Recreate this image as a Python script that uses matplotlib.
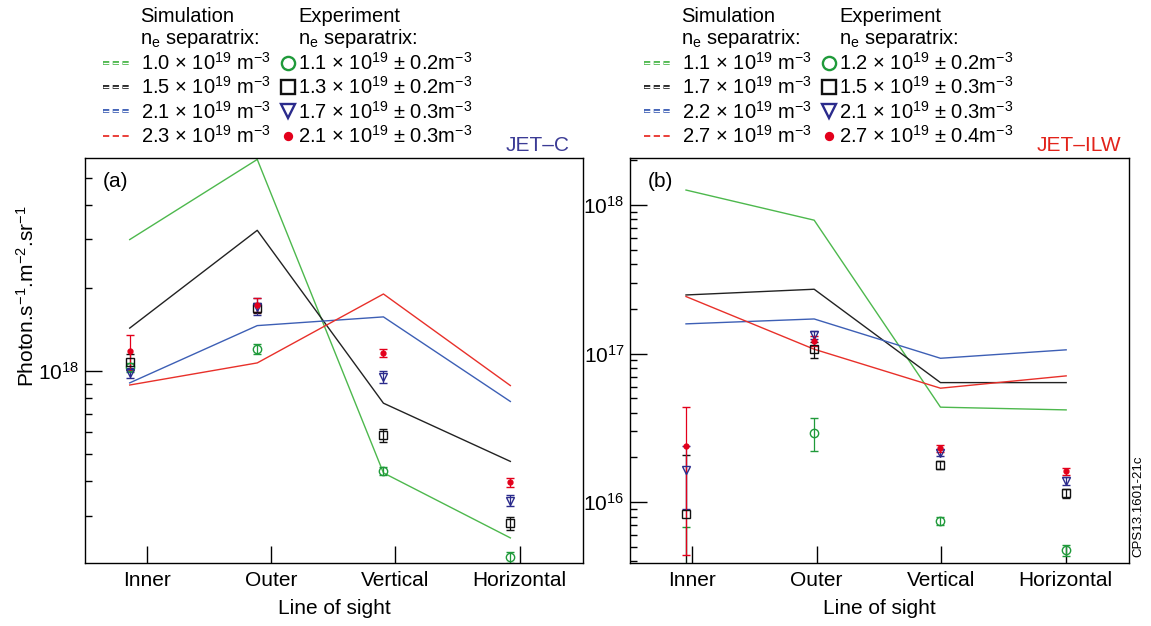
import numpy as np
import matplotlib
matplotlib.use('Agg')
import matplotlib.pyplot as plt
from matplotlib.lines import Line2D
from matplotlib.legend_handler import HandlerTuple
from matplotlib.ticker import FixedLocator, FuncFormatter, NullLocator

plt.rcParams['font.family'] = ['Liberation Sans', 'DejaVu Sans']
plt.rcParams['mathtext.default'] = 'regular'
plt.rcParams['lines.scale_dashes'] = False

# categories (line of sight)
categories = ['Inner', 'Outer', 'Vertical', 'Horizontal']

# JET-C simulation (ne separatrix 1.0, 1.5, 2.1, 2.3 e19)
sim_c_10 = [2.99e18, 5.83e18, 4.28e17, 2.49e17]
sim_c_15 = [1.43e18, 3.23e18, 7.65e17, 4.71e17]
sim_c_21 = [9.06e17, 1.46e18, 1.57e18, 7.76e17]
sim_c_23 = [8.90e17, 1.07e18, 1.90e18, 8.86e17]

# JET-C experiment (ne separatrix 1.1, 1.3, 1.7, 2.1 e19)
exp_c_11 = [1.03e18, 1.20e18, 4.35e17, 2.12e17]
exp_c_11_err = [0.04e18, 0.05e18, 0.15e17, 0.10e17]
exp_c_13 = [1.08e18, 1.69e18, 5.85e17, 2.81e17]
exp_c_13_err = [0.07e18, 0.07e18, 0.30e17, 0.15e17]
exp_c_17 = [9.86e17, 1.71e18, 9.53e17, 3.40e17]
exp_c_17_err = [0.40e17, 0.12e18, 0.50e17, 0.15e17]
exp_c_21 = [1.18e18, 1.74e18, 1.16e18, 3.96e17]
exp_c_21_err = [0.17e18, 0.10e18, 0.40e17, 0.15e17]

# JET-ILW simulation (ne separatrix 1.1, 1.7, 2.2, 2.7 e19)
sim_ilw_11 = [1.26e18, 7.90e17, 4.36e16, 4.18e16]
sim_ilw_17 = [2.48e17, 2.71e17, 6.38e16, 6.38e16]
sim_ilw_22 = [1.585e17, 1.71e17, 9.30e16, 1.06e17]
sim_ilw_27 = [2.42e17, 1.07e17, 5.85e16, 7.08e16]

# JET-ILW experiment (ne separatrix 1.2, 1.5, 2.1, 2.7 e19)
exp_ilw_12 = [2.5e15, 2.94e16, 7.5e15, 4.78e15]
exp_ilw_12_err = [4.3e15, 0.73e16, 0.5e15, 0.4e15]
exp_ilw_15 = [8.36e15, 1.07e17, 1.78e16, 1.15e16]
exp_ilw_15_err = [1.24e16, 0.13e17, 0.10e16, 0.08e16]
exp_ilw_21 = [1.65e16, 1.34e17, 2.16e16, 1.39e16]
exp_ilw_21_err = [0.75e16, 0.08e17, 0.12e16, 0.08e16]
exp_ilw_27 = [2.39e16, 1.22e17, 2.30e16, 1.61e16]
exp_ilw_27_err = [1.95e16, 0.10e17, 0.12e16, 0.08e16]

sim_labels_c = ['1.0 × 10$^{19}$ m$^{-3}$', '1.5 × 10$^{19}$ m$^{-3}$',
                '2.1 × 10$^{19}$ m$^{-3}$', '2.3 × 10$^{19}$ m$^{-3}$']
exp_labels_c = ['1.1 × 10$^{19}$ ± 0.2m$^{-3}$', '1.3 × 10$^{19}$ ± 0.2m$^{-3}$',
                '1.7 × 10$^{19}$ ± 0.3m$^{-3}$', '2.1 × 10$^{19}$ ± 0.3m$^{-3}$']
sim_labels_ilw = ['1.1 × 10$^{19}$ m$^{-3}$', '1.7 × 10$^{19}$ m$^{-3}$',
                  '2.2 × 10$^{19}$ m$^{-3}$', '2.7 × 10$^{19}$ m$^{-3}$']
exp_labels_ilw = ['1.2 × 10$^{19}$ ± 0.2m$^{-3}$', '1.5 × 10$^{19}$ ± 0.3m$^{-3}$',
                  '2.1 × 10$^{19}$ ± 0.3m$^{-3}$', '2.7 × 10$^{19}$ ± 0.4m$^{-3}$']

# styles
line_colors = ['#4db84d', '#222222', '#3d5fb5', '#e8302a']
mark_colors = ['#1f9a3a', '#111111', '#2b2b8c', '#e3001b']
markers = ['o', 's', 'v', 'o']
W, H = 1151, 626

# log tick positions: decades (labelled) and 2..9 in between
decades = [10.0 ** d for d in range(14, 20)]
minor_ticks = [m * 10.0 ** d for d in range(14, 20) for m in range(2, 10)]


def draw(ax, sims, exps, errs, shift, ylim):
    x = np.arange(len(categories))
    for s, c in zip(sims, line_colors):
        ax.plot(x + shift, s, color=c, lw=1.0)
    for e, er, mc, m in zip(exps, errs, mark_colors, markers):
        filled = (mc == mark_colors[3])
        e = np.asarray(e)
        er = np.asarray(er)
        # keep the lower whisker positive on the log axis
        lower = np.minimum(er, e * 0.9)
        ax.errorbar(x + shift, e, yerr=[lower, er], fmt=m, color=mc,
                    ms=3.5 if filled else 6, mfc=mc if filled else 'none',
                    mew=1.0, elinewidth=0.9, capsize=3, capthick=0.9)
    ax.set_yscale('log')
    ax.set_ylim(*ylim)
    ax.set_xlim(-0.5, 3.51)
    ax.set_xticks(x)
    ax.set_xticklabels(categories, fontsize=15)
    ax.tick_params(axis='x', direction='in', length=12, width=1, pad=6, top=False)
    ax.set_xlabel('Line of sight', fontsize=15, labelpad=6)

    # decade ticks on the axis, short in-between ticks drawn along the left spine
    ax.yaxis.set_major_locator(FixedLocator(decades))
    ax.yaxis.set_major_formatter(FuncFormatter(lambda v, p: '$10^{%d}$' % round(np.log10(v))))
    ax.yaxis.set_minor_locator(NullLocator())
    ax.tick_params(axis='y', which='major', direction='in', length=12, width=1,
                   labelsize=15, right=False, pad=4)
    inside = [v for v in minor_ticks if ylim[0] < v < ylim[1]]
    ax.hlines(inside, 0, 7 / 498, transform=ax.get_yaxis_transform(),
              color='black', lw=1.0, zorder=5)
    for sp in ax.spines.values():
        sp.set_linewidth(1.0)


def legends(sim_labels, exp_labels, x0):
    dash = (0, (4.5, 2.5))
    sim_h = []
    for i, c in enumerate(line_colors):
        if i < 3:
            # double-stroke dashed key, as in the original
            sim_h.append((Line2D([], [], color=c, ls=dash, lw=2.8),
                          Line2D([], [], color='white', ls=dash, lw=0.9)))
        else:
            sim_h.append(Line2D([], [], color=c, ls=dash, lw=1.3))
    exp_h = [Line2D([], [], ls='none', marker=m, color=mc,
                    mfc=mc if i == 3 else 'none', mew=1.7,
                    ms=5 if i == 3 else 9.5) for i, (m, mc) in enumerate(zip(markers, mark_colors))]
    fig.legend(sim_h, sim_labels, loc='upper left',
               bbox_to_anchor=(x0 / W, 1 - 52 / H), frameon=False, fontsize=14.5,
               handlelength=1.35, handletextpad=0.55, labelspacing=0.12,
               borderpad=0, borderaxespad=0,
               handler_map={tuple: HandlerTuple(ndivide=1)})
    fig.legend(exp_h, exp_labels, loc='upper left',
               bbox_to_anchor=((x0 + 179) / W, 1 - 52 / H), frameon=False, fontsize=14.5,
               handlelength=0.6, handletextpad=0.2, labelspacing=0.12,
               borderpad=0, borderaxespad=0)
    fig.text((x0 + 37) / W, 1 - 16 / H, 'Simulation', fontsize=14.5, va='center')
    fig.text((x0 + 37) / W, 1 - 39 / H, 'n$_e$ separatrix:', fontsize=14.5, va='center')
    fig.text((x0 + 195) / W, 1 - 16 / H, 'Experiment', fontsize=14.5, va='center')
    fig.text((x0 + 195) / W, 1 - 39 / H, 'n$_e$ separatrix:', fontsize=14.5, va='center')


fig = plt.figure(figsize=(W / 100, H / 100), dpi=100)
ax_a = fig.add_axes([85 / W, 63 / H, 498 / W, 405 / H])
ax_b = fig.add_axes([630 / W, 63 / H, 499 / W, 405 / H])

draw(ax_a, [sim_c_10, sim_c_15, sim_c_21, sim_c_23],
     [exp_c_11, exp_c_13, exp_c_17, exp_c_21],
     [exp_c_11_err, exp_c_13_err, exp_c_17_err, exp_c_21_err],
     np.array([-0.14, -0.113, -0.097, -0.075]), (2.02e17, 5.9e18))
draw(ax_b, [sim_ilw_11, sim_ilw_17, sim_ilw_22, sim_ilw_27],
     [exp_ilw_12, exp_ilw_15, exp_ilw_21, exp_ilw_27],
     [exp_ilw_12_err, exp_ilw_15_err, exp_ilw_21_err, exp_ilw_27_err],
     np.array([-0.05, -0.02, -0.005, 0.005]), (3.9e15, 2.07e18))

ax_a.set_ylabel('Photon.s$^{-1}$.m$^{-2}$.sr$^{-1}$', fontsize=15)
ax_a.yaxis.set_label_coords(-0.095, 0.66)

ax_a.text(0.035, 0.965, '(a)', transform=ax_a.transAxes, fontsize=15, va='top')
ax_b.text(0.035, 0.965, '(b)', transform=ax_b.transAxes, fontsize=15, va='top')

fig.text(570 / W, 1 - 145 / H, 'JET–C', color='#3b3b95', fontsize=15, ha='right', va='center')
fig.text(1121 / W, 1 - 145 / H, 'JET–ILW', color='#e2231a', fontsize=15, ha='right', va='center')
fig.text(1138 / W, 1 - 506 / H, 'CPS13.1601-21c', rotation=90, fontsize=9.5,
         ha='center', va='center')

legends(sim_labels_c, exp_labels_c, 103)
legends(sim_labels_ilw, exp_labels_ilw, 644)

fig.savefig('out.png', dpi=100)
